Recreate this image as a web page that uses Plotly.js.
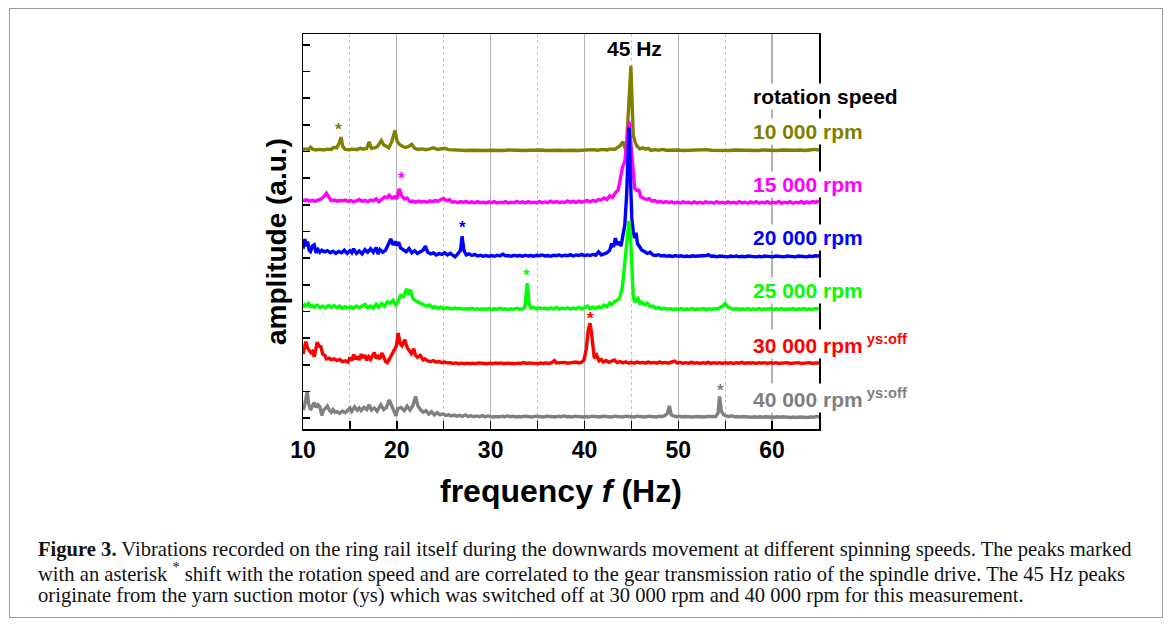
<!DOCTYPE html>
<html>
<head>
<meta charset="utf-8">
<script src="https://cdn.plot.ly/plotly-3.0.1.min.js"></script>
<style>
html,body{margin:0;padding:0;background:#fff;}
#wrap{position:relative;width:1171px;height:625px;}
#chart{width:1171px;height:625px;}
#frame{position:absolute;left:9px;top:8px;width:1152px;height:608px;border:1px solid #9a9a9a;pointer-events:none;}
</style>
</head>
<body>
<div id="wrap"><div id="chart"></div><div id="frame"></div></div>
<script>
// ---- data: [frequency (Hz), amplitude (a.u., relative to each trace's own baseline)] ----
const speeds = ["10 000 rpm", "15 000 rpm", "20 000 rpm", "25 000 rpm", "30 000 rpm", "40 000 rpm"];
const ysOff = [false, false, false, false, true, true];
const offsets = [10, 8, 6, 4, 2, 0];
const colors = ["#808000", "#ff00ff", "#0000ff", "#00ff00", "#ff0000", "#808080"];
const gearPeakHz = [13.76, 20.45, 27.03, 33.85, 40.6, 54.5];
const gearMarkLevel = [0.97, 1.12, 1.27, 1.47, 1.85, 1.15];
const xTickVals = [10, 20, 30, 40, 50, 60];

const s10k = [[10.0,.08],[10.3,.10],[10.6,.07],[10.8,.16],[11.0,.09],[11.4,.06],[11.8,.08],[12.2,.06],[12.6,.09],[13.0,.08],[13.3,.16],[13.6,.14],[13.85,.31],[14.05,.54],[14.25,.18],[14.5,.08],[14.9,.07],[15.3,.09],[15.7,.07],[16.1,.12],[16.4,.09],[16.8,.12],[17.05,.36],[17.3,.12],[17.6,.14],[17.9,.18],[18.15,.30],[18.35,.41],[18.6,.25],[18.9,.18],[19.15,.14],[19.45,.36],[19.8,.79],[20.05,.37],[20.35,.25],[20.7,.18],[20.95,.15],[21.3,.20],[21.6,.27],[21.9,.12],[22.3,.08],[22.7,.10],[23.1,.07],[23.5,.10],[23.9,.14],[24.3,.08],[24.7,.11],[25.1,.12],[25.5,.07],[25.9,.06],[26.4,.05],[26.9,.06],[27.4,.04],[27.9,.05],[28.4,.04],[28.9,.05],[29.4,.04],[29.9,.05],[30.4,.04],[30.9,.05],[31.4,.04],[31.9,.06],[32.4,.04],[32.9,.05],[33.4,.04],[33.9,.05],[34.4,.05],[34.9,.04],[35.4,.06],[35.9,.04],[36.4,.05],[36.9,.07],[37.4,.05],[37.9,.04],[38.4,.06],[38.9,.05],[39.4,.04],[39.9,.06],[40.4,.05],[40.9,.07],[41.4,.05],[41.9,.08],[42.4,.06],[42.8,.10],[43.2,.08],[43.5,.16],[43.8,.22],[44.1,.37],[44.3,.15],[44.45,.0],[44.7,1.6],[44.95,3.22],[45.1,1.6],[45.2,.62],[45.4,.35],[45.6,.2],[45.9,.1],[46.2,.14],[46.5,.09],[46.8,.12],[47.1,.04],[47.5,.07],[47.9,.05],[48.3,.08],[48.7,.05],[49.1,.06],[49.5,.05],[50.0,.06],[50.5,.04],[51.0,.05],[51.5,.06],[52.0,.04],[52.5,.05],[53.0,.07],[53.5,.05],[54.0,.04],[54.5,.06],[55.0,.05],[55.5,.04],[56.0,.06],[56.5,.05],[57.0,.04],[57.5,.06],[58.0,.05],[58.5,.04],[59.0,.06],[59.5,.05],[60.0,.05],[60.5,.04],[61.0,.06],[61.5,.05],[62.0,.07],[62.5,.05],[63.0,.06],[63.5,.04],[64.0,.06],[64.5,.08],[65.0,.06]];

const s15k = [[10.0,.20],[10.2,.16],[10.4,.19],[10.7,.14],[11.0,.17],[11.3,.13],[11.6,.18],[11.9,.22],[12.2,.30],[12.5,.44],[12.75,.30],[13.0,.16],[13.3,.18],[13.6,.14],[13.9,.16],[14.2,.15],[14.5,.18],[14.8,.13],[15.1,.16],[15.4,.12],[15.7,.15],[16.0,.20],[16.3,.13],[16.6,.17],[16.9,.12],[17.2,.18],[17.5,.15],[17.8,.23],[18.1,.12],[18.4,.20],[18.7,.30],[19.0,.27],[19.2,.36],[19.5,.26],[19.8,.30],[20.0,.22],[20.25,.60],[20.5,.35],[20.8,.22],[21.1,.26],[21.4,.12],[21.7,.14],[22.0,.10],[22.3,.14],[22.6,.11],[22.9,.13],[23.2,.10],[23.5,.15],[23.8,.12],[24.1,.16],[24.4,.14],[24.7,.20],[25.0,.24],[25.3,.15],[25.6,.19],[25.9,.10],[26.2,.12],[26.5,.08],[26.8,.12],[27.1,.09],[27.4,.13],[27.7,.08],[28.0,.11],[28.3,.07],[28.6,.12],[28.9,.08],[29.2,.10],[29.5,.07],[29.8,.11],[30.1,.08],[30.4,.12],[30.7,.07],[31.0,.10],[31.3,.08],[31.6,.12],[31.9,.07],[32.2,.10],[32.5,.08],[32.8,.13],[33.1,.08],[33.4,.11],[33.7,.07],[34.0,.12],[34.3,.08],[34.6,.10],[34.9,.07],[35.2,.13],[35.5,.08],[35.8,.11],[36.1,.08],[36.4,.14],[36.7,.09],[37.0,.12],[37.3,.08],[37.6,.11],[37.9,.09],[38.2,.15],[38.5,.10],[38.8,.13],[39.1,.09],[39.4,.14],[39.7,.10],[40.0,.12],[40.3,.16],[40.6,.11],[40.9,.17],[41.2,.13],[41.5,.20],[41.8,.18],[42.1,.26],[42.4,.20],[42.7,.34],[43.0,.28],[43.3,.45],[43.6,.56],[43.85,1.1],[44.05,1.4],[44.3,1.62],[44.5,2.2],[44.75,3.12],[44.9,2.5],[45.05,1.82],[45.2,.9],[45.35,.62],[45.55,.55],[45.8,.55],[46.0,.30],[46.3,.26],[46.6,.20],[46.9,.24],[47.2,.14],[47.5,.16],[47.8,.10],[48.1,.13],[48.4,.08],[48.7,.12],[49.0,.08],[49.3,.11],[49.6,.07],[49.9,.10],[50.2,.07],[50.5,.11],[50.8,.08],[51.1,.10],[51.4,.06],[51.7,.11],[52.0,.07],[52.3,.10],[52.6,.06],[52.9,.11],[53.2,.08],[53.5,.10],[53.8,.06],[54.1,.12],[54.4,.07],[54.7,.10],[55.0,.06],[55.3,.11],[55.6,.07],[55.9,.10],[56.2,.06],[56.5,.12],[56.8,.07],[57.1,.10],[57.4,.06],[57.7,.11],[58.0,.07],[58.3,.12],[58.6,.06],[58.9,.10],[59.2,.07],[59.5,.12],[59.8,.06],[60.1,.10],[60.4,.07],[60.7,.13],[61.0,.06],[61.3,.10],[61.6,.07],[61.9,.12],[62.2,.06],[62.5,.10],[62.8,.07],[63.1,.13],[63.4,.06],[63.7,.11],[64.0,.07],[64.3,.13],[64.6,.09],[65.0,.14]];

const s20k = [[10.0,.35],[10.1,.55],[10.2,.72],[10.35,.45],[10.5,.62],[10.65,.30],[10.8,.25],[11.0,.45],[11.2,.50],[11.4,.20],[11.6,.32],[11.8,.22],[12.0,.30],[12.3,.24],[12.6,.28],[12.9,.20],[13.2,.26],[13.5,.18],[13.8,.25],[14.1,.20],[14.4,.30],[14.7,.18],[15.0,.28],[15.2,.20],[15.4,.35],[15.7,.18],[16.0,.27],[16.3,.16],[16.6,.32],[16.9,.22],[17.2,.35],[17.5,.22],[17.8,.40],[18.0,.15],[18.2,.32],[18.5,.22],[18.8,.30],[19.0,.45],[19.35,.72],[19.6,.50],[19.8,.62],[20.0,.48],[20.2,.60],[20.4,.38],[20.7,.30],[21.0,.24],[21.3,.36],[21.6,.20],[21.9,.28],[22.2,.18],[22.5,.24],[22.8,.30],[23.05,.45],[23.3,.22],[23.6,.16],[23.9,.20],[24.2,.12],[24.5,.17],[24.8,.14],[25.1,.20],[25.4,.12],[25.7,.18],[26.0,.10],[26.2,.05],[26.5,.16],[26.8,.30],[26.95,.82],[27.15,.30],[27.4,.12],[27.7,.16],[28.0,.10],[28.3,.14],[28.6,.08],[28.9,.11],[29.2,.07],[29.5,.10],[29.8,.07],[30.1,.10],[30.4,.07],[30.7,.11],[31.0,.08],[31.3,.15],[31.6,.09],[31.9,.10],[32.2,.07],[32.5,.11],[32.8,.08],[33.1,.10],[33.4,.07],[33.7,.11],[34.0,.08],[34.3,.10],[34.6,.07],[34.9,.11],[35.2,.09],[35.5,.12],[35.8,.08],[36.1,.10],[36.4,.07],[36.7,.11],[37.0,.09],[37.3,.12],[37.6,.08],[37.9,.11],[38.2,.09],[38.5,.13],[38.8,.08],[39.1,.12],[39.4,.10],[39.7,.14],[40.0,.09],[40.3,.12],[40.6,.10],[40.9,.14],[41.2,.11],[41.5,.24],[41.8,.12],[42.1,.16],[42.4,.20],[42.7,.30],[42.9,.55],[43.1,.42],[43.3,.75],[43.5,.50],[43.7,.62],[43.9,.45],[44.1,.95],[44.3,1.25],[44.5,2.4],[44.75,4.9],[44.9,3.0],[45.05,1.5],[45.2,1.0],[45.35,.75],[45.5,.95],[45.65,.55],[45.85,.45],[46.1,.30],[46.4,.25],[46.7,.18],[47.0,.22],[47.3,.12],[47.6,.10],[47.9,.13],[48.2,.08],[48.5,.10],[48.8,.07],[49.1,.09],[49.4,.06],[49.7,.10],[50.0,.07],[50.3,.09],[50.6,.06],[50.9,.08],[51.2,.06],[51.5,.09],[51.8,.07],[52.1,.08],[52.4,.06],[52.7,.09],[53.0,.10],[53.2,.13],[53.5,.07],[53.8,.08],[54.1,.05],[54.4,.08],[54.7,.06],[55.0,.07],[55.3,.05],[55.6,.08],[55.9,.06],[56.2,.08],[56.5,.05],[56.8,.07],[57.1,.05],[57.4,.08],[57.7,.06],[58.0,.07],[58.3,.05],[58.6,.07],[58.9,.05],[59.2,.08],[59.5,.06],[59.8,.07],[60.1,.05],[60.4,.08],[60.7,.06],[61.0,.07],[61.3,.05],[61.6,.08],[61.9,.06],[62.2,.07],[62.5,.05],[62.8,.08],[63.1,.06],[63.4,.07],[63.7,.05],[64.0,.08],[64.3,.06],[64.6,.09],[65.0,.08]];

const s25k = [[10.0,.15],[10.2,.26],[10.4,.22],[10.6,.30],[10.8,.18],[11.0,.22],[11.2,.16],[11.5,.24],[11.8,.15],[12.1,.20],[12.4,.14],[12.7,.22],[13.0,.15],[13.3,.23],[13.6,.14],[13.9,.20],[14.2,.12],[14.5,.18],[14.8,.13],[15.1,.17],[15.4,.12],[15.7,.20],[16.0,.14],[16.3,.22],[16.6,.26],[16.9,.14],[17.2,.20],[17.5,.12],[17.8,.27],[18.1,.16],[18.4,.30],[18.7,.20],[19.0,.36],[19.3,.30],[19.6,.42],[19.9,.25],[20.1,.36],[20.4,.60],[20.7,.55],[21.05,.85],[21.25,.62],[21.45,.82],[21.7,.50],[22.0,.40],[22.3,.34],[22.6,.30],[22.9,.24],[23.2,.20],[23.5,.24],[23.8,.14],[24.1,.18],[24.4,.12],[24.7,.16],[25.0,.10],[25.3,.14],[25.6,.12],[25.9,.09],[26.2,.13],[26.5,.10],[26.8,.12],[27.1,.08],[27.4,.11],[27.7,.09],[28.0,.12],[28.3,.08],[28.6,.10],[28.9,.07],[29.2,.10],[29.5,.08],[29.8,.11],[30.1,.07],[30.4,.10],[30.7,.08],[31.0,.12],[31.3,.08],[31.6,.10],[31.9,.07],[32.2,.10],[32.5,.08],[32.8,.12],[33.1,.08],[33.4,.10],[33.65,.16],[33.9,1.06],[34.1,.30],[34.3,.12],[34.6,.15],[34.9,.10],[35.2,.14],[35.5,.10],[35.8,.13],[36.1,.09],[36.4,.14],[36.7,.10],[37.0,.15],[37.3,.09],[37.6,.13],[37.9,.10],[38.2,.14],[38.5,.09],[38.8,.13],[39.1,.10],[39.4,.15],[39.7,.09],[40.0,.13],[40.35,.20],[40.6,.10],[40.9,.16],[41.2,.11],[41.5,.18],[41.8,.14],[42.1,.24],[42.4,.18],[42.7,.32],[42.9,.26],[43.2,.38],[43.5,.42],[43.8,.55],[44.05,.95],[44.3,1.8],[44.5,2.6],[44.75,3.4],[44.9,2.9],[45.05,1.6],[45.2,.6],[45.35,.35],[45.5,.42],[45.7,.48],[45.9,.30],[46.1,.35],[46.4,.25],[46.7,.30],[47.0,.18],[47.3,.20],[47.6,.12],[47.9,.15],[48.2,.09],[48.5,.12],[48.8,.08],[49.1,.11],[49.4,.07],[49.7,.10],[50.0,.08],[50.3,.11],[50.6,.07],[50.9,.10],[51.2,.08],[51.5,.11],[51.8,.07],[52.1,.10],[52.4,.08],[52.7,.11],[53.0,.07],[53.3,.10],[53.6,.08],[53.9,.11],[54.2,.09],[54.5,.14],[54.8,.22],[55.0,.30],[55.3,.16],[55.6,.12],[55.9,.08],[56.2,.11],[56.5,.07],[56.8,.10],[57.1,.08],[57.4,.11],[57.7,.07],[58.0,.10],[58.3,.08],[58.6,.11],[58.9,.07],[59.2,.10],[59.5,.08],[59.8,.11],[60.1,.07],[60.4,.10],[60.7,.08],[61.0,.11],[61.3,.07],[61.6,.10],[61.9,.08],[62.2,.11],[62.5,.07],[62.8,.10],[63.1,.08],[63.4,.11],[63.7,.07],[64.0,.10],[64.3,.08],[64.6,.11],[65.0,.09]];

const s30k = [[10.0,.40],[10.1,.56],[10.3,.87],[10.5,.62],[10.65,.55],[10.85,.45],[11.0,.50],[11.2,.30],[11.35,.55],[11.5,.84],[11.7,.70],[11.9,.68],[12.1,.40],[12.3,.36],[12.5,.22],[12.8,.25],[13.0,.19],[13.3,.22],[13.6,.16],[13.9,.20],[14.2,.12],[14.5,.15],[14.8,.10],[15.0,.28],[15.2,.16],[15.4,.38],[15.6,.20],[15.8,.32],[16.0,.18],[16.2,.40],[16.4,.25],[16.6,.36],[16.8,.16],[17.0,.30],[17.2,.20],[17.4,.34],[17.6,.46],[17.8,.24],[18.0,.32],[18.2,.22],[18.4,.44],[18.6,.30],[18.8,.12],[19.0,.08],[19.2,.22],[19.45,.35],[19.7,.56],[19.95,.70],[20.15,1.19],[20.35,.80],[20.55,.72],[20.85,.94],[21.1,.65],[21.3,.55],[21.55,.42],[21.8,.60],[22.0,.35],[22.2,.28],[22.5,.35],[22.8,.18],[23.0,.22],[23.3,.14],[23.6,.12],[23.9,.16],[24.2,.10],[24.5,.12],[24.8,.08],[25.1,.10],[25.4,.07],[25.7,.08],[26.0,.05],[26.3,.07],[26.6,.04],[26.9,.06],[27.2,.04],[27.5,.06],[27.8,.04],[28.1,.06],[28.4,.04],[28.7,.07],[29.0,.05],[29.3,.06],[29.6,.04],[29.9,.06],[30.2,.04],[30.5,.07],[30.8,.05],[31.1,.07],[31.4,.04],[31.7,.06],[32.0,.05],[32.3,.07],[32.6,.04],[32.9,.06],[33.2,.05],[33.5,.08],[33.8,.05],[34.1,.07],[34.4,.05],[34.7,.06],[35.0,.04],[35.3,.07],[35.6,.05],[35.9,.07],[36.2,.05],[36.5,.08],[36.8,.16],[37.0,.07],[37.3,.08],[37.6,.06],[37.9,.09],[38.2,.06],[38.5,.08],[38.8,.07],[39.1,.10],[39.4,.07],[39.7,.10],[39.95,.18],[40.2,.60],[40.4,1.3],[40.6,1.56],[40.75,1.2],[40.9,.55],[41.05,.25],[41.3,.36],[41.55,.15],[41.8,.20],[42.0,.10],[42.3,.16],[42.6,.09],[42.9,.14],[43.2,.18],[43.5,.08],[43.8,.12],[44.1,.07],[44.4,.11],[44.7,.06],[45.0,.09],[45.3,.06],[45.6,.10],[45.9,.07],[46.2,.09],[46.5,.06],[46.8,.10],[47.1,.07],[47.4,.09],[47.7,.06],[48.0,.10],[48.3,.07],[48.6,.09],[48.9,.06],[49.2,.10],[49.6,.14],[49.9,.07],[50.2,.09],[50.5,.06],[50.8,.08],[51.1,.06],[51.4,.09],[51.7,.06],[52.0,.08],[52.3,.05],[52.6,.08],[52.9,.06],[53.2,.09],[53.5,.05],[53.8,.08],[54.1,.06],[54.4,.08],[54.7,.05],[55.0,.08],[55.3,.06],[55.6,.08],[55.9,.05],[56.2,.08],[56.5,.06],[56.8,.09],[57.1,.05],[57.4,.08],[57.7,.06],[58.0,.08],[58.3,.05],[58.6,.08],[58.9,.06],[59.2,.08],[59.5,.05],[59.8,.08],[60.1,.06],[60.4,.08],[60.7,.05],[61.0,.07],[61.3,.06],[61.6,.08],[61.9,.05],[62.2,.07],[62.5,.06],[62.8,.08],[63.1,.05],[63.4,.07],[63.7,.06],[64.0,.08],[64.3,.05],[64.6,.07],[65.0,.06]];

const s40k = [[10.0,.30],[10.15,.45],[10.3,.70],[10.45,1.0],[10.6,.55],[10.8,.30],[11.0,.45],[11.2,.58],[11.4,.40],[11.6,.50],[11.8,.42],[12.0,.10],[12.2,.30],[12.4,.38],[12.6,.45],[12.8,.30],[13.0,.22],[13.2,.32],[13.4,.22],[13.6,.24],[13.9,.18],[14.2,.26],[14.5,.20],[14.8,.30],[15.0,.38],[15.2,.25],[15.5,.42],[15.8,.30],[16.0,.38],[16.2,.28],[16.5,.40],[16.8,.32],[17.05,.50],[17.3,.30],[17.6,.38],[17.9,.26],[18.3,.50],[18.6,.32],[18.9,.40],[19.2,.68],[19.45,.45],[19.7,.30],[19.9,.08],[20.1,.35],[20.45,.40],[20.8,.28],[21.1,.45],[21.4,.30],[21.7,.45],[22.0,.81],[22.25,.45],[22.55,.30],[22.8,.22],[23.1,.28],[23.4,.15],[23.7,.24],[24.0,.12],[24.3,.20],[24.6,.12],[24.9,.16],[25.2,.10],[25.5,.12],[25.8,.08],[26.1,.11],[26.4,.07],[26.7,.10],[27.0,.06],[27.3,.12],[27.6,.06],[27.9,.09],[28.2,.05],[28.5,.08],[28.8,.05],[29.1,.09],[29.4,.05],[29.7,.08],[30.0,.05],[30.3,.04],[30.6,.06],[30.9,.04],[31.2,.07],[31.5,.05],[31.8,.08],[32.1,.05],[32.4,.07],[32.7,.04],[33.0,.06],[33.3,.04],[33.6,.07],[33.9,.05],[34.2,.06],[34.5,.04],[34.8,.07],[35.1,.05],[35.4,.06],[35.7,.04],[36.0,.07],[36.3,.05],[36.6,.06],[36.9,.04],[37.2,.07],[37.5,.05],[37.8,.08],[38.1,.05],[38.4,.06],[38.7,.04],[39.0,.07],[39.3,.05],[39.6,.06],[39.9,.04],[40.2,.06],[40.5,.04],[40.8,.07],[41.1,.05],[41.4,.06],[41.7,.04],[42.0,.07],[42.3,.05],[42.6,.06],[42.9,.04],[43.2,.07],[43.5,.05],[43.8,.06],[44.1,.04],[44.4,.07],[44.7,.05],[45.0,.06],[45.3,.04],[45.6,.07],[45.9,.05],[46.2,.06],[46.5,.04],[46.8,.07],[47.1,.05],[47.4,.06],[47.7,.04],[48.0,.07],[48.3,.06],[48.6,.10],[48.85,.18],[49.05,.46],[49.25,.12],[49.5,.08],[49.8,.05],[50.1,.07],[50.4,.04],[50.7,.06],[51.0,.05],[51.3,.07],[51.6,.04],[51.9,.06],[52.2,.05],[52.5,.07],[52.8,.04],[53.1,.06],[53.4,.05],[53.7,.07],[54.0,.06],[54.25,.20],[54.4,.81],[54.6,.25],[54.85,.12],[55.1,.08],[55.4,.06],[55.7,.08],[56.0,.05],[56.3,.06],[56.6,.04],[56.9,.06],[57.2,.04],[57.5,.05],[57.8,.03],[58.1,.05],[58.4,.03],[58.7,.05],[59.0,.03],[59.3,.05],[59.6,.04],[59.9,.05],[60.2,.03],[60.5,.05],[60.8,.03],[61.1,.05],[61.4,.03],[61.7,.04],[62.0,.02],[62.3,.04],[62.6,.02],[62.9,.04],[63.2,.03],[63.5,.04],[63.8,.02],[64.1,.05],[64.4,.03],[64.7,.06],[65.0,.05]];

const series = [s10k, s15k, s20k, s25k, s30k, s40k];

const captionLines = [
  "<b>Figure 3.</b> Vibrations recorded on the ring rail itself during the downwards movement at different spinning speeds. The peaks marked",
  "with an asterisk <sup>*</sup> shift with the rotation speed and are correlated to the gear transmission ratio of the spindle drive. The 45 Hz peaks",
  "originate from the yarn suction motor (ys) which was switched off at 30 000 rpm and 40 000 rpm for this measurement."
];

// ---- build ----
const SANS = "Liberation Sans, Arial, sans-serif";
const traces = series.map((s, i) => ({
  type: "scatter", mode: "lines",
  x: s.map(p => p[0]),
  y: s.map(p => p[1] + offsets[i]),
  line: {color: colors[i], width: 3.4},
  hoverinfo: "skip", showlegend: false
}));

const ann = [];
ann.push({x: 57.7, y: 12.08, xref: "x", yref: "y", xanchor: "left", yanchor: "middle",
  text: "<b>rotation speed</b>", showarrow: false, bgcolor: "#ffffff",
  font: {family: SANS, size: 21, color: "#000"}});
speeds.forEach((sp, i) => {
  ann.push({x: 57.7, y: offsets[i] + 0.77, xref: "x", yref: "y", xanchor: "left", yanchor: "middle",
    text: "<b>" + sp + "</b>" + (ysOff[i] ? "<b><sup> ys:off</sup></b>" : ""),
    showarrow: false, bgcolor: "#ffffff",
    font: {family: SANS, size: 21, color: colors[i]}});
  ann.push({x: gearPeakHz[i], y: offsets[i] + gearMarkLevel[i] - 0.13, xref: "x", yref: "y",
    xanchor: "center", yanchor: "middle", text: "<b>*</b>", showarrow: false,
    font: {family: SANS, size: 17, color: colors[i]}});
});
ann.push({x: 45.34, y: 13.85, xref: "x", yref: "y", xanchor: "center", yanchor: "middle",
  text: "<b>45 Hz</b>", showarrow: false, font: {family: SANS, size: 21, color: "#000"}});
ann.push({x: -0.0504, y: 0.476, xref: "paper", yref: "paper", xanchor: "center", yanchor: "middle",
  textangle: -90, text: "<b>amplitude (a.u.)</b>", showarrow: false,
  font: {family: SANS, size: 28, color: "#000"}});
ann.push({x: 0.5, y: (429 - 491) / 395, xref: "paper", yref: "paper", xanchor: "center", yanchor: "middle",
  text: "<b>frequency <i>f</i> (Hz)</b>", showarrow: false,
  font: {family: SANS, size: 32, color: "#000"}});
const capY = [549, 572, 595];
captionLines.forEach((t, k) => {
  ann.push({x: (36 - 303) / 516, y: (429 - capY[k]) / 395, xref: "paper", yref: "paper",
    xanchor: "left", yanchor: "middle", text: t, showarrow: false,
    font: {family: "Liberation Serif, Times New Roman, serif", size: 20.6, color: "#111"}});
});

const layout = {
  width: 1171, height: 625,
  margin: {l: 303, r: 352, t: 34, b: 196},
  paper_bgcolor: "#ffffff", plot_bgcolor: "#ffffff",
  showlegend: false,
  xaxis: {
    range: [10, 65], tickvals: xTickVals, ticktext: xTickVals.map(String),
    ticks: "inside", ticklen: 8, tickwidth: 1.5, tickcolor: "#000",
    showline: true, mirror: true, linecolor: "#000", linewidth: 1.5,
    showgrid: true, gridcolor: "#b4b4b4", gridwidth: 1.2,
    zeroline: false,
    tickfont: {family: SANS, size: 23, color: "#000", weight: "bold"},
    minor: {dtick: 5, tick0: 10, ticks: "inside", ticklen: 8, tickwidth: 1.2, tickcolor: "#000",
            showgrid: true, gridcolor: "#c4c4c4", griddash: "dot", gridwidth: 1}
  },
  yaxis: {
    range: [-0.41, 14.41], dtick: 1, tick0: 0,
    ticks: "inside", ticklen: 7, tickwidth: 1.5, tickcolor: "#000",
    showticklabels: false, showgrid: false, zeroline: false,
    showline: true, mirror: true, linecolor: "#000", linewidth: 1.5
  },
  annotations: ann
};

Plotly.newPlot("chart", traces, layout, {displayModeBar: false, staticPlot: true});
</script>
</body>
</html>
